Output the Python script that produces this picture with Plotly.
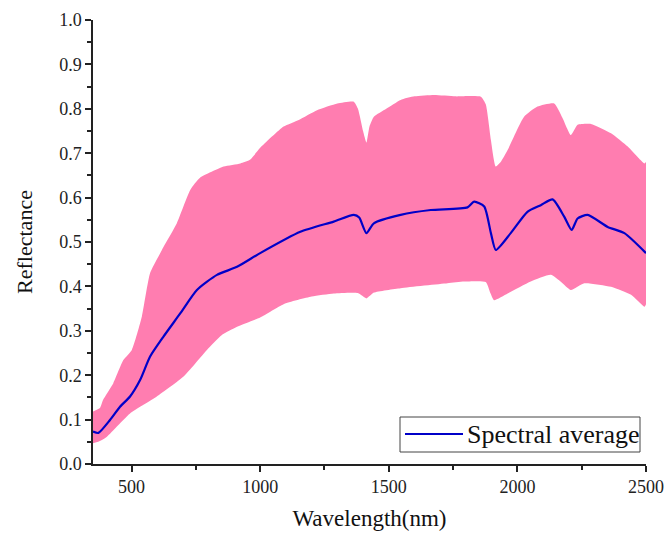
import plotly.graph_objects as go

# Upper envelope (max reflectance)
upper_wl = [350, 377, 389, 429, 468, 501, 540, 572, 618, 676, 728, 767, 858, 923, 960, 1000,
            1091, 1150, 1221, 1300, 1364, 1380, 1400, 1413, 1425, 1442, 1490, 1546, 1600, 1676,
            1760, 1858, 1877, 1897, 1916, 1935, 1962, 2026, 2078, 2143, 2175, 2208, 2234, 2286,
            2364, 2429, 2470, 2494, 2500]
upper_refl = [0.118, 0.126, 0.144, 0.182, 0.234, 0.257, 0.332, 0.430, 0.482, 0.542, 0.617, 0.645,
              0.670, 0.677, 0.685, 0.712, 0.760, 0.775, 0.797, 0.812, 0.816, 0.800, 0.750, 0.724,
              0.760, 0.782, 0.800, 0.820, 0.828, 0.831, 0.828, 0.827, 0.810, 0.730, 0.670, 0.680,
              0.707, 0.782, 0.805, 0.812, 0.780, 0.741, 0.764, 0.766, 0.745, 0.715, 0.690, 0.677, 0.680]

# Lower envelope (min reflectance)
lower_wl = [350, 370, 403, 442, 494, 598, 702, 793, 850, 910, 1000, 1091, 1200, 1286, 1380, 1413,
            1442, 1546, 1728, 1793, 1877, 1895, 1909, 1962, 2052, 2130, 2170, 2208, 2260, 2364,
            2442, 2494, 2500]
lower_refl = [0.047, 0.050, 0.061, 0.084, 0.114, 0.152, 0.197, 0.257, 0.290, 0.309, 0.330, 0.360,
              0.377, 0.384, 0.385, 0.373, 0.386, 0.396, 0.407, 0.411, 0.410, 0.385, 0.369, 0.384,
              0.411, 0.426, 0.410, 0.392, 0.407, 0.399, 0.381, 0.354, 0.360]

# Spectral average
mean_wl = [350, 371, 416, 455, 494, 533, 572, 624, 689, 754, 832, 910, 1000, 1156, 1286, 1364,
           1385, 1413, 1442, 1546, 1663, 1806, 1832, 1871, 1897, 1916, 1974, 2039, 2091, 2137,
           2182, 2211, 2234, 2273, 2351, 2416, 2500]
mean_refl = [0.073, 0.070, 0.099, 0.129, 0.152, 0.189, 0.242, 0.287, 0.339, 0.392, 0.426, 0.444,
             0.475, 0.523, 0.546, 0.561, 0.555, 0.520, 0.542, 0.561, 0.572, 0.578, 0.591, 0.580,
             0.520, 0.482, 0.520, 0.568, 0.583, 0.596, 0.557, 0.527, 0.553, 0.561, 0.534, 0.520, 0.475]

x_ticks = [500, 1000, 1500, 2000, 2500]
y_ticks = [0.0, 0.1, 0.2, 0.3, 0.4, 0.5, 0.6, 0.7, 0.8, 0.9, 1.0]
legend_label = "Spectral average"

FONT = "Liberation Serif"
LINE_COLOR = "rgb(0,0,200)"
fig = go.Figure()

fig.add_trace(go.Scatter(x=lower_wl, y=lower_refl, mode="lines",
                         line=dict(width=0, shape="spline", smoothing=0.5),
                         showlegend=False, hoverinfo="skip"))
fig.add_trace(go.Scatter(x=upper_wl, y=upper_refl, mode="lines", fill="tonexty",
                         fillcolor="rgb(255,125,176)",
                         line=dict(width=0, shape="spline", smoothing=0.5),
                         showlegend=False, hoverinfo="skip"))
fig.add_trace(go.Scatter(x=mean_wl, y=mean_refl, mode="lines", name=legend_label,
                         showlegend=False,
                         line=dict(color=LINE_COLOR, width=2.2, shape="spline", smoothing=0.6)))

axis_common = dict(showgrid=False, zeroline=False, showline=True, linecolor="#222",
                   linewidth=1.5, ticks="outside", ticklen=6, tickwidth=1.5, tickcolor="#222",
                   tickfont=dict(family=FONT, size=18, color="#222"), mirror=False,
                   automargin=False)

fig.update_xaxes(range=[350, 2500], tickvals=x_ticks, ticktext=[str(v) for v in x_ticks],
                 minor=dict(ticks="outside", ticklen=4, tickwidth=1.5, tickcolor="#222",
                            tickvals=[750, 1250, 1750, 2250]),
                 title=dict(text="Wavelength(nm)", font=dict(family=FONT, size=23, color="#111"),
                            standoff=14),
                 **axis_common)
fig.update_yaxes(range=[0, 1.0], tickvals=y_ticks, ticktext=[f"{v:.1f}" for v in y_ticks],
                 minor=dict(ticks="outside", ticklen=4, tickwidth=1.5, tickcolor="#222",
                            dtick=0.05),
                 title=dict(text="Reflectance", font=dict(family=FONT, size=22, color="#111"),
                            standoff=20),
                 **axis_common)

# Legend box drawn in paper coordinates (bottom-right inside the plot)
pw, ph = 553.0, 444.0
def px(xp):
    return (xp - 93) / pw
def py(yp):
    return (464 - yp) / ph

fig.add_shape(type="rect", xref="paper", yref="paper",
              x0=px(400), x1=px(640), y0=py(452), y1=py(417),
              line=dict(color="#444", width=1), fillcolor="white", layer="above")
fig.add_shape(type="line", xref="paper", yref="paper",
              x0=px(405), x1=px(463), y0=py(434), y1=py(434),
              line=dict(color=LINE_COLOR, width=2.2), layer="above")
fig.add_annotation(xref="paper", yref="paper", x=px(465), y=py(434),
                   xanchor="left", yanchor="middle", showarrow=False,
                   text=legend_label, font=dict(family=FONT, size=26, color="#111"))

fig.update_layout(
    width=667, height=534,
    margin=dict(l=93, r=21, t=20, b=70),
    plot_bgcolor="white", paper_bgcolor="white",
    showlegend=False,
)

fig.write_html("out.html")
